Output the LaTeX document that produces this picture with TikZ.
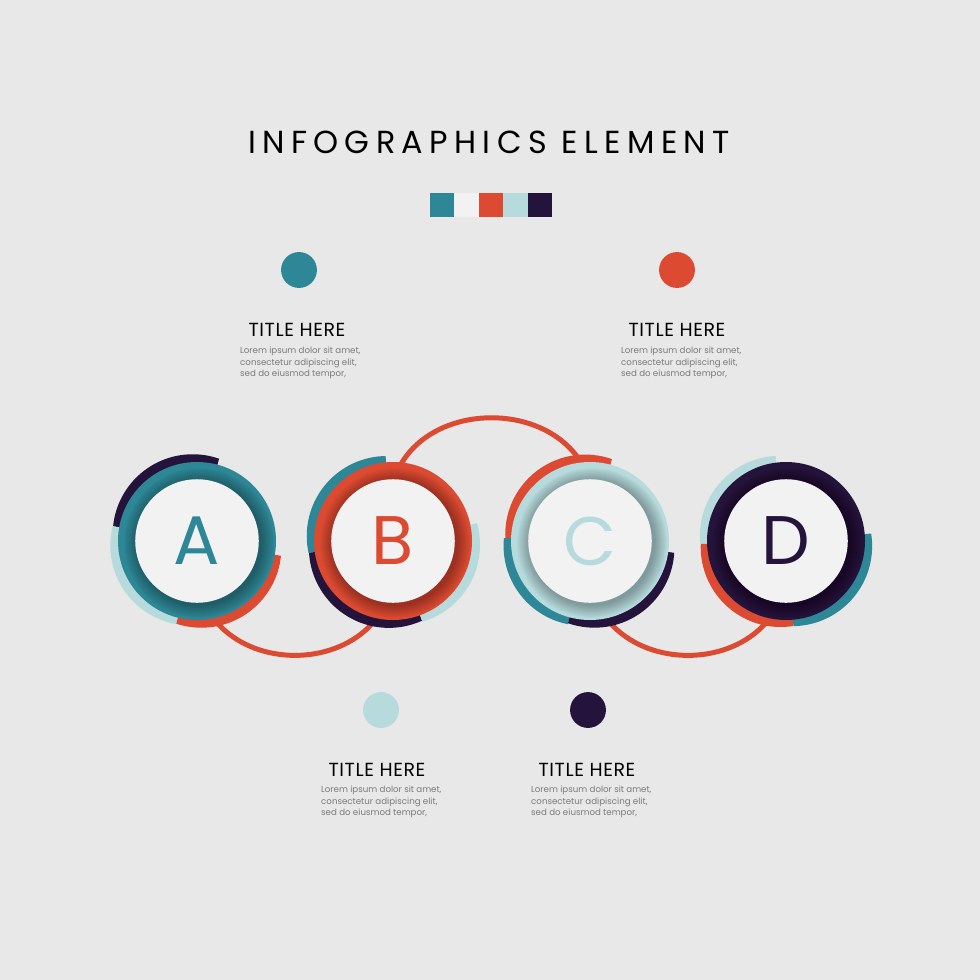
\documentclass[tikz,border=0pt]{standalone}
\usepackage{fontspec}
\setmainfont{Poppins}
\usepackage{tikz}
\usetikzlibrary{positioning,calc}

\definecolor{tealA}{HTML}{2E8796}
\definecolor{redB}{HTML}{DC4A32}
\definecolor{mistC}{HTML}{B7DBDD}
\definecolor{plumD}{HTML}{24133A}
\definecolor{paper}{HTML}{F2F2F3}
\definecolor{canvas}{HTML}{E7E8E7}
\definecolor{blurbgray}{HTML}{7A7A7A}

% coloured piece on the rim of a badge: centre, from, to, colour
\newcommand{\ringbit}[4]{%
  \begin{scope}
    \clip (#1) -- ++(#2:110) arc (#2:#3:110) -- cycle;
    \fill[#4] ($(#1)+({(#2+#3)/2}:8)$) circle (80);
  \end{scope}}

\tikzset{
  link/.style={draw=redB, line width=5},
  disc/.style={circle, fill=paper, minimum size=124, inner sep=0,
    font=\fontsize{69}{69}\selectfont},
  dot/.style={circle, minimum size=36, inner sep=0},
  heading/.style={inner sep=0, font=\fontsize{19}{22}\addfontfeature{LetterSpace=3}\selectfont},
  blurb/.style={anchor=north west, inner sep=0, align=left, text=blurbgray,
    font=\fontsize{8.7}{11.5}\selectfont}
}

\begin{document}
\begin{tikzpicture}[x=1bp, y=1bp]

 \useasboundingbox (0,0) rectangle (980,-980);
 \fill[canvas] (-3,3) rectangle (983,-983);

 \node[inner sep=0, font=\fontsize{32}{36}\addfontfeature{LetterSpace=20}\selectfont] (head) at (489,-142) {INFOGRAPHICS ELEMENT};

 \foreach \col [count=\i] in {tealA,paper,redB,mistC,plumD}
   \fill[\col] ({430+24.4*(\i-1)},-193) rectangle ++(24.4,-24);

 \coordinate (cA) at (197,-541);
 \coordinate (cB) at (393,-541);
 \coordinate (cC) at (590,-541);
 \coordinate (cD) at (786,-541);

 % links behind the badges
 \draw[link] (cA) to[out=-99, in=-81, looseness=2.02] (cB);
 \draw[link] (cB) to[out=103.5, in=76.5, looseness=2.2] (cC);
 \draw[link] (cC) to[out=-99, in=-81, looseness=2.02] (cD);

 \foreach \c/\a/\b/\col in {cA/75/170/plumD, cA/170/256/mistC, cA/256/350/redB,
   cB/95/188/tealA, cB/188/290/plumD, cB/290/372/mistC,
   cC/75/178/redB, cC/178/255/tealA, cC/255/352/plumD,
   cD/97/182/mistC, cD/182/275/redB, cD/275/365/tealA}
   \ringbit{\c}{\a}{\b}{\col};

 \foreach \c/\col/\name in {cA/tealA/A, cB/redB/B, cC/mistC/C, cD/plumD/D}{
   \fill[\col] (\c) circle (79);
   \foreach \r in {63,...,75}
     \fill[black, opacity=0.025] ($(\c)+(2,-2)$) circle (\r);
   \node[disc, text=\col] (\name) at (\c) {\name};
 }

 \node[dot, fill=tealA] (dot1) at (299,-270) {};
 \node[dot, fill=redB] (dot2) at (677,-270) {};
 \node[dot, fill=mistC] (dot3) at (381,-710) {};
 \node[dot, fill=plumD] (dot4) at (588,-710) {};

 \node[heading] (title1) at (297,-330) {TITLE HERE};
 \node[heading] (title2) at (677,-330) {TITLE HERE};
 \node[heading] (title3) at (377,-770) {TITLE HERE};
 \node[heading] (title4) at (587,-770) {TITLE HERE};

 \node[blurb] (text1) at (240,-347) {Lorem ipsum dolor sit amet,\\consectetur adipiscing elit,\\sed do eiusmod tempor,};
 \node[blurb] (text2) at (621,-347) {Lorem ipsum dolor sit amet,\\consectetur adipiscing elit,\\sed do eiusmod tempor,};
 \node[blurb] (text3) at (321,-786) {Lorem ipsum dolor sit amet,\\consectetur adipiscing elit,\\sed do eiusmod tempor,};
 \node[blurb] (text4) at (531,-786) {Lorem ipsum dolor sit amet,\\consectetur adipiscing elit,\\sed do eiusmod tempor,};

\end{tikzpicture}
\end{document}
